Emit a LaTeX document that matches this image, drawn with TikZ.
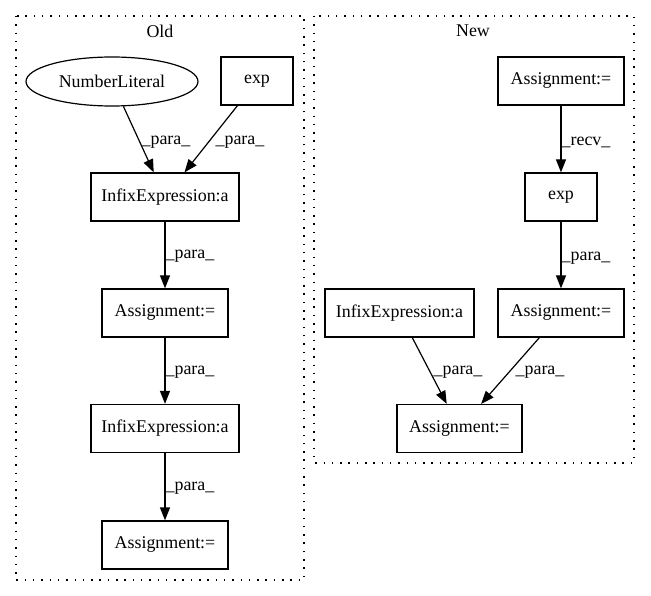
\documentclass[tikz,border=0pt]{standalone}
\usepackage{fontspec}
\setmainfont{Liberation Serif}
\usetikzlibrary{shapes.geometric,arrows.meta}
\begin{document}
\begin{tikzpicture}[x=1pt,y=-1pt,
  every node/.style={font=\fontsize{17.9}{20}\selectfont},
  box/.style={draw,line width=1.2pt,rectangle,inner sep=0pt,minimum height=48pt},
  ell/.style={draw,line width=1.2pt,ellipse,inner sep=0pt,minimum width=172pt,minimum height=49pt},
  edge/.style={line width=1.2pt,-{Triangle[length=13pt,width=10pt]}},
  lab/.style={inner sep=0pt},
  cluster/.style={line width=1.2pt,dash pattern=on 1.5pt off 6.8pt}]
\useasboundingbox (0,0) rectangle (651,596);
% clusters
\draw[cluster] (16,16) rectangle (304,580);
\draw[cluster] (314,16) rectangle (634,463);
\node (toldtitle) at (160,31) {Old};
\node (tnewtitle) at (473,31) {New};
% Old nodes
\node[ell] (nl) at (112,81.5) {NumberLiteral};
\node[box,minimum width=72pt] (oexp) at (257,81) {exp};
\node[box,minimum width=148pt] (oia) at (165,197) {InfixExpression:a};
\node[box,minimum width=126pt] (oas1) at (165,313) {Assignment:=};
\node[box,minimum width=148pt] (oib) at (165,428.5) {InfixExpression:a};
\node[box,minimum width=126pt] (oas2) at (165,545) {Assignment:=};
% New nodes
\node[box,minimum width=126pt] (nas1) at (561,81) {Assignment:=};
\node[box,minimum width=72pt] (nexp) at (561,197) {exp};
\node[box,minimum width=126pt] (nas2) at (561,313) {Assignment:=};
\node[box,minimum width=149pt] (nia) at (399.5,313) {InfixExpression:a};
\node[box,minimum width=125pt] (nas3) at (459.5,428.5) {Assignment:=};
% Old edges
\draw[edge] (nl) -- (oia);
\draw[edge] (oexp) -- (oia);
\draw[edge] (oia) -- (oas1);
\draw[edge] (oas1) -- (oib);
\draw[edge] (oib) -- (oas2);
\node[lab] (l1) at (166,142) {\_para\_};
\node[lab] (l2) at (240,142) {\_para\_};
\node[lab] (l3) at (190,256) {\_para\_};
\node[lab] (l4) at (190,372) {\_para\_};
\node[lab] (l5) at (190,488) {\_para\_};
% New edges
\draw[edge] (nas1) -- (nexp);
\draw[edge] (nexp) -- (nas2);
\draw[edge] (nia) -- (nas3);
\draw[edge] (nas2) -- (nas3);
\node[lab] (l6) at (586,142) {\_recv\_};
\node[lab] (l7) at (586,258) {\_para\_};
\node[lab] (l8) at (458,372) {\_para\_};
\node[lab] (l9) at (540,372) {\_para\_};
\end{tikzpicture}
\end{document}
